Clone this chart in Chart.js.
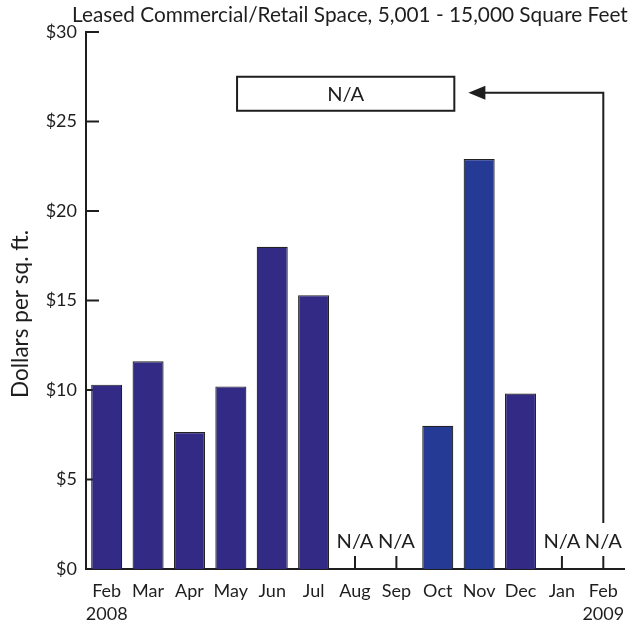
<!DOCTYPE html>
<html>
<head>
<meta charset="utf-8">
<script src="https://cdn.jsdelivr.net/npm/chart.js@4.4.0/dist/chart.umd.min.js"></script>
<style>
  html, body { margin: 0; padding: 0; background: #fff; }
  #wrap { width: 642px; height: 629px; position: relative; }
</style>
</head>
<body>
<div id="wrap"><canvas id="c" width="642" height="629"></canvas></div>
<script>
// ---- data ----
const monthLabels = ["Feb", "Mar", "Apr", "May", "Jun", "Jul", "Aug", "Sep", "Oct", "Nov", "Dec", "Jan", "Feb"];
const yearLabels  = ["2008", "", "", "", "", "", "", "", "", "", "", "", "2009"];
const pricePerSqFt = [10.3, 11.6, 7.65, 10.2, 18.0, 15.3, null, null, 8.0, 22.9, 9.8, null, null];
const barColors = ["#332a85", "#332a85", "#332a85", "#332a85", "#332a85", "#332a85", "#332a85", "#332a85",
                   "#243a94", "#243a94", "#332a85", "#332a85", "#332a85"];
const yTickValues = [0, 5, 10, 15, 20, 25, 30];
const chartTitle = "Leased Commercial/Retail Space, 5,001 - 15,000 Square Feet";
const yAxisTitle = "Dollars per sq. ft.";
const naText = "N/A";
// annotation box (category index range, value range) and arrow
const naBox = { x0: 3.15, x1: 8.4, y0: 25.6, y1: 27.5 };
const naArrow = { tipX: 8.74, cornerX: 12, y: 26.6, bottomY: 2.57 };

const FONT = "Lato, 'Open Sans', sans-serif";
const INK = "#1e1e1e";

const labels = monthLabels.map((m, i) => yearLabels[i] ? [m, yearLabels[i]] : m);

function fitFont(ctx, text, width, base) {
  ctx.font = base + "px " + FONT;
  const w = ctx.measureText(text).width;
  return (base * width / w).toFixed(2) + "px " + FONT;
}

const decorPlugin = {
  id: 'decor',
  beforeDatasetsDraw(chart) {
    const ctx = chart.ctx, x = chart.scales.x, y = chart.scales.y;
    ctx.save();
    ctx.strokeStyle = INK;
    ctx.lineWidth = 2;
    // inward x ticks
    monthLabels.forEach((_, i) => {
      const px = x.getPixelForValue(i);
      ctx.beginPath();
      ctx.moveTo(px, y.bottom);
      ctx.lineTo(px, y.bottom - 13);
      ctx.stroke();
    });
    // inward y ticks
    yTickValues.forEach(v => {
      const py = y.getPixelForValue(v);
      ctx.beginPath();
      ctx.moveTo(x.left, py);
      ctx.lineTo(x.left + 13, py);
      ctx.stroke();
    });
    ctx.restore();
  },
  afterDraw(chart) {
    const ctx = chart.ctx, x = chart.scales.x, y = chart.scales.y;
    ctx.save();
    ctx.fillStyle = INK;
    ctx.strokeStyle = INK;
    // title
    ctx.font = fitFont(ctx, chartTitle, 556, 18);
    ctx.textAlign = "left";
    ctx.textBaseline = "alphabetic";
    ctx.fillText(chartTitle, 72, 22);
    // y axis title
    ctx.save();
    ctx.translate(21, 314);
    ctx.rotate(-Math.PI / 2);
    ctx.font = fitFont(ctx, yAxisTitle, 168, 18);
    ctx.textAlign = "center";
    ctx.textBaseline = "middle";
    ctx.fillText(yAxisTitle, 0, 0);
    ctx.restore();
    // N/A labels for missing values
    ctx.font = fitFont(ctx, naText, 37, 18);
    ctx.textAlign = "center";
    ctx.textBaseline = "middle";
    pricePerSqFt.forEach((v, i) => {
      if (v === null) {
        ctx.fillText(naText, x.getPixelForValue(i), y.bottom - 28);
      }
    });
    // N/A box
    const bx0 = x.getPixelForValue(naBox.x0), bx1 = x.getPixelForValue(naBox.x1);
    const by0 = y.getPixelForValue(naBox.y1), by1 = y.getPixelForValue(naBox.y0);
    ctx.lineWidth = 2;
    ctx.strokeRect(bx0, by0, bx1 - bx0, by1 - by0);
    ctx.fillText(naText, (bx0 + bx1) / 2, (by0 + by1) / 2 + 1);
    // arrow
    const ax = x.getPixelForValue(naArrow.cornerX);
    const ay = y.getPixelForValue(naArrow.y);
    const ab = y.getPixelForValue(naArrow.bottomY);
    const tip = x.getPixelForValue(naArrow.tipX);
    ctx.beginPath();
    ctx.moveTo(ax, ab);
    ctx.lineTo(ax, ay);
    ctx.lineTo(tip + 12, ay);
    ctx.stroke();
    ctx.beginPath();
    ctx.moveTo(tip, ay);
    ctx.lineTo(tip + 17, ay - 7);
    ctx.lineTo(tip + 17, ay + 7);
    ctx.closePath();
    ctx.fill();
    ctx.restore();
  }
};

new Chart(document.getElementById('c'), {
  type: 'bar',
  data: {
    labels: labels,
    datasets: [{
      data: pricePerSqFt,
      backgroundColor: barColors,
      borderColor: "#222",
      borderWidth: 1.2,
      categoryPercentage: 1.0,
      barPercentage: 0.75
    }]
  },
  options: {
    responsive: false,
    animation: false,
    devicePixelRatio: 1,
    layout: { padding: { left: 0, right: 18, top: 32, bottom: 0 } },
    plugins: { legend: { display: false }, tooltip: { enabled: false }, title: { display: false } },
    scales: {
      x: {
        offset: true,
        grid: { display: false, drawTicks: false },
        border: { display: true, color: INK, width: 2 },
        ticks: {
          color: INK,
          font: { family: FONT, size: 18, lineHeight: 1.3 },
          padding: 10,
          maxRotation: 0,
          autoSkip: false
        },
        afterFit(scale) { scale.height = 60; }
      },
      y: {
        min: 0,
        max: 30,
        grid: { display: false, drawTicks: false },
        border: { display: true, color: INK, width: 2 },
        ticks: {
          stepSize: 5,
          color: INK,
          font: { family: FONT, size: 18 },
          padding: 9,
          callback: v => "$" + v
        },
        afterFit(scale) { scale.width = 86; }
      }
    }
  },
  plugins: [decorPlugin]
});
</script>
</body>
</html>
